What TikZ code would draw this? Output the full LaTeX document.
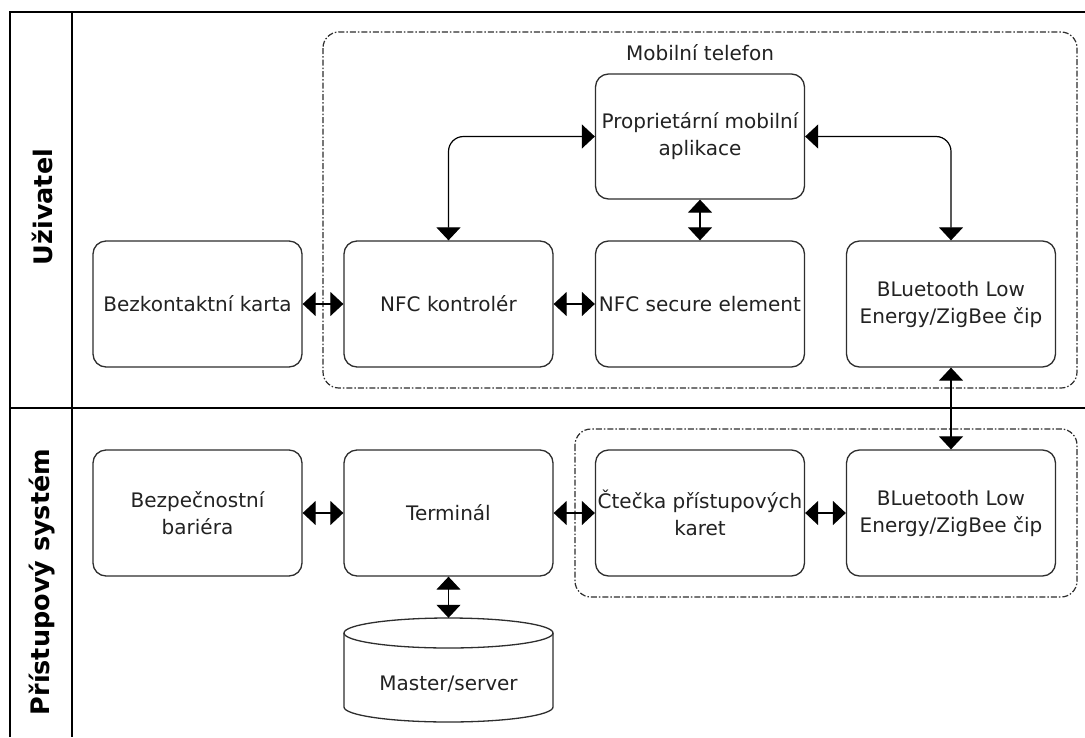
\documentclass[tikz,border=0pt]{standalone}
\usepackage{fontspec}
\setmainfont{DejaVu Sans}
\usetikzlibrary{arrows.meta}
\definecolor{boxline}{HTML}{2E2E2E}
\definecolor{txt}{HTML}{222222}
\begin{document}
\begin{tikzpicture}[x=1pt,y=-1pt,
  box/.style={draw=boxline, line width=1.3pt, rounded corners=13pt, minimum width=209pt, minimum height=126pt, inner sep=0pt, align=center, text=txt, font=\fontsize{20}{27}\selectfont},
  conn/.style={line width=1.2pt, {Triangle[length=13pt,width=24pt]}-{Triangle[length=13pt,width=24pt]}},
  frameline/.style={line width=1.4pt, black},
  groupbox/.style={line width=1.2pt, draw=boxline, rounded corners=16pt, dash pattern=on 6pt off 2pt on 1.5pt off 2pt},
  lanetitle/.style={rotate=90, font=\bfseries\fontsize{25.5}{30}\selectfont, text=black}
]
\useasboundingbox (0,0) rectangle (1085,737);
\fill[white] (0,0) rectangle (1085,737);

% lanes
\draw[frameline] (10,737) -- (10,12) -- (1085,12);
\draw[frameline] (72,12) -- (72,737);
\draw[frameline] (10,408) -- (1085,408);
\node[lanetitle] (lane1) at (42,207) {Uživatel};
\node[lanetitle] (lane2) at (42,582) {Přístupový systém};

% groups
\draw[groupbox] (323,32) rectangle (1077,388);
\node[text=txt, font=\fontsize{20}{24}\selectfont] (phonelabel) at (700,53) {Mobilní telefon};
\draw[groupbox] (575,429) rectangle (1077,597);

% upper row
\node[box] (kart) at (197.5,304) {Bezkontaktní karta};
\node[box] (nfc) at (448.5,304) {NFC kontrolér};
\node[box] (se) at (700,304) {NFC secure element};
\node[box] (ble1) at (951,304) {BLuetooth Low\\Energy/ZigBee čip};
\node[box, minimum height=125pt] (app) at (700,136.5) {Proprietární mobilní\\aplikace};

% lower row
\node[box] (bar) at (197.5,513) {Bezpečnostní\\bariéra};
\node[box] (term) at (448.5,513) {Terminál};
\node[box] (cte) at (700,513) {Čtečka přístupových\\karet};
\node[box] (ble2) at (951,513) {BLuetooth Low\\Energy/ZigBee čip};

% database cylinder
\node[minimum width=209pt, minimum height=104pt, inner sep=0pt] (master) at (448.5,670) {};
\draw[draw=boxline, line width=1.3pt] (344,633) -- (344,707)
  arc[start angle=180, end angle=360, x radius=104.5pt, y radius=15pt] -- (553,633);
\draw[draw=boxline, line width=1.3pt] (448.5,633) ellipse [x radius=104.5pt, y radius=15pt];
\node[text=txt, font=\fontsize{20}{24}\selectfont] (mastertext) at (448.5,684) {Master/server};

% connectors
\draw[conn] (kart.east) -- (nfc.west);
\draw[conn] (nfc.east) -- (se.west);
\draw[conn, rounded corners=15pt] (nfc.north) |- (app.west);
\draw[conn, rounded corners=15pt] (ble1.north) |- (app.east);
\draw[conn] (app.south) -- (se.north);
\draw[conn] (ble1.south) -- (ble2.north);
\draw[conn] (bar.east) -- (term.west);
\draw[conn] (term.east) -- (cte.west);
\draw[conn] (cte.east) -- (ble2.west);
\draw[conn] (term.south) -- (master.north);
\end{tikzpicture}
\end{document}
